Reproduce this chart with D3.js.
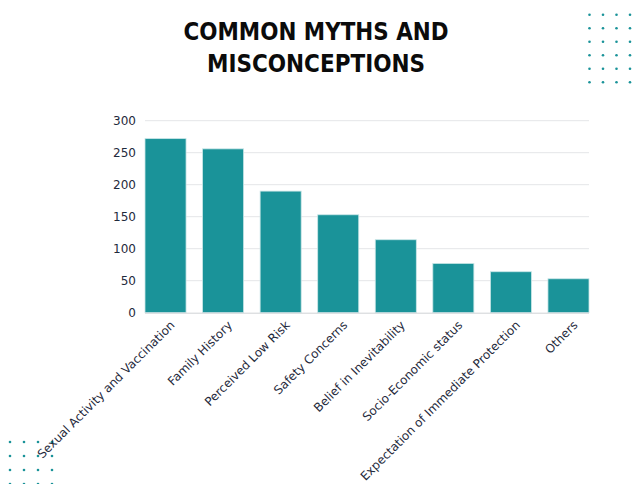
<!DOCTYPE html>
<html>
<head>
<meta charset="utf-8">
<script src="https://cdn.jsdelivr.net/npm/d3@7"></script>
<style>
  body { margin: 0; background: #fff; }
  svg { display: block; }
  .title { font-family: "DejaVu Sans Condensed", "DejaVu Sans", sans-serif; font-weight: bold; font-size: 25px; fill: #0b0b0b; }
  .tick text { font-family: "DejaVu Sans", sans-serif; fill: #1f2a3c; }
</style>
</head>
<body>
<div id="chart"></div>
<script>
const categories = [
    "Sexual Activity and Vaccination",
    "Family History",
    "Perceived Low Risk",
    "Safety Concerns",
    "Belief in Inevitability",
    "Socio-Economic status",
    "Expectation of Immediate Protection",
    "Others"
];
const values = [272, 256, 190, 153, 114, 77, 64, 53];
const yTicks = [0, 50, 100, 150, 200, 250, 300];
const titleLines = ["COMMON MYTHS AND", "MISCONCEPTIONS"];

const width = 632;
const height = 484;
const teal = "#1a9399";

const svg = d3.select("#chart")
    .append("svg")
    .attr("width", width)
    .attr("height", height);

// decorative dot grids
function dotGrid(x0, y0, cols, rows, step) {
    const pts = d3.cross(d3.range(cols), d3.range(rows));
    svg.append("g").selectAll("circle")
        .data(pts)
        .enter().append("circle")
        .attr("cx", d => x0 + d[0] * step)
        .attr("cy", d => y0 + d[1] * step)
        .attr("r", 1.3)
        .attr("fill", teal);
}
dotGrid(589.5, 14.8, 4, 6, 13.5);
dotGrid(10, 442, 4, 4, 14);

// title
svg.selectAll(".title")
    .data(titleLines)
    .enter().append("text")
    .attr("class", "title")
    .attr("x", 316)
    .attr("y", (d, i) => 40 + i * 32)
    .attr("text-anchor", "middle")
    .attr("textLength", (d, i) => i === 0 ? 265 : 218)
    .attr("lengthAdjust", "spacingAndGlyphs")
    .text(d => d);

const x = d3.scaleBand()
    .domain(categories)
    .range([145, 589])
    .paddingInner(0.287)
    .paddingOuter(0);

const y = d3.scaleLinear()
    .domain([0, 300])
    .range([312.7, 120.7]);

// gridlines
svg.append("g")
    .selectAll("line")
    .data(yTicks.slice(1))
    .enter().append("line")
    .attr("x1", 145)
    .attr("x2", 589)
    .attr("y1", d => y(d))
    .attr("y2", d => y(d))
    .attr("stroke", "#e4e6e8")
    .attr("stroke-width", 1);

// y axis labels
const yAxis = svg.append("g")
    .attr("transform", "translate(145,0)")
    .call(d3.axisLeft(y).tickValues(yTicks).tickSize(0).tickPadding(9));
yAxis.select(".domain").remove();
yAxis.selectAll("text").style("font-size", "12px");

// bars
svg.append("g")
    .selectAll("rect")
    .data(values)
    .enter().append("rect")
    .attr("x", (d, i) => x(categories[i]))
    .attr("y", d => y(d))
    .attr("width", x.bandwidth())
    .attr("height", d => y(0) - y(d))
    .attr("fill", teal)
    .attr("stroke", "#c9e6e7")
    .attr("stroke-width", 0.8);

// baseline
svg.append("line")
    .attr("x1", 145)
    .attr("x2", 589)
    .attr("y1", y(0) + 0.5)
    .attr("y2", y(0) + 0.5)
    .attr("stroke", "#cfd3d6");

// x labels rotated
svg.append("g")
    .selectAll("text")
    .data(categories)
    .enter().append("text")
    .attr("transform", d => `translate(${x(d) + x.bandwidth() / 2 + 4}, 320) rotate(-45)`)
    .attr("text-anchor", "end")
    .attr("dy", "0.7em")
    .style("font-family", "'DejaVu Sans', sans-serif")
    .style("font-size", "12px")
    .attr("fill", "#1f2a3c")
    .text(d => d);
</script>
</body>
</html>
